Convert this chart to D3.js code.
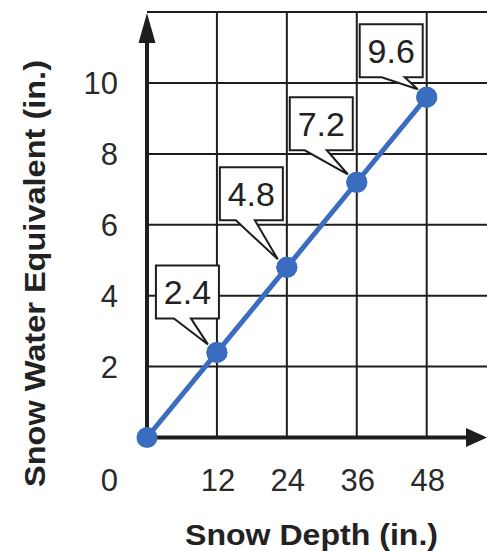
<!DOCTYPE html>
<html>
<head>
<meta charset="utf-8">
<script src="https://cdn.jsdelivr.net/npm/d3@7/dist/d3.min.js"></script>
<style>
  html, body { margin: 0; padding: 0; background: #fff; }
  svg { display: block; }
  text { font-family: "Liberation Sans", Arial, Helvetica, sans-serif; }
</style>
</head>
<body>
<svg id="chart" width="487" height="551"></svg>
<script>
// ---- data ----
const snowDepth = [0, 12, 24, 36, 48];
const waterEquivalent = [0, 2.4, 4.8, 7.2, 9.6];
const calloutLabels = ["2.4", "4.8", "7.2", "9.6"];
const xTickValues = [12, 24, 36, 48];
const yTickValues = [2, 4, 6, 8, 10];
const xTitle = "Snow Depth (in.)";
const yTitle = "Snow Water Equivalent (in.)";

// ---- layout ----
const W = 487, H = 551;
const x0 = 147, y0 = 437.5;
const x = d3.scaleLinear().domain([0, 48]).range([x0, 426.7]);
const y = d3.scaleLinear().domain([0, 10]).range([y0, 83]);
const yMax = 12;               // top grid line
const ink = "#1e1e1e";
const blue = "#3a6cbf";

// callout box placement (pixels, relative to point)
const calloutOffsets = [
  { dx: -61, dy: -87, b1: 18, b2: 35 },
  { dx: -67, dy: -100, b1: 16, b2: 35 },
  { dx: -67, dy: -85, b1: 15, b2: 37 },
  { dx: -67, dy: -73, b1: 22, b2: 45 }
];
const boxW = 63, boxH = 53;

const svg = d3.select("#chart");

// ---- grid ----
const grid = svg.append("g").attr("stroke", ink).attr("stroke-width", 2);
const hLines = d3.range(2, yMax + 1, 2);
grid.selectAll("line.h").data(hLines).join("line")
  .attr("x1", x0).attr("x2", W)
  .attr("y1", d => y(d)).attr("y2", d => y(d));
grid.selectAll("line.v").data(xTickValues).join("line")
  .attr("x1", d => x(d)).attr("x2", d => x(d))
  .attr("y1", y(yMax) - 1).attr("y2", y0);

// ---- axes ----
svg.append("line")
  .attr("x1", x0).attr("x2", x0)
  .attr("y1", y0).attr("y2", 38)
  .attr("stroke", ink).attr("stroke-width", 4);
svg.append("path")
  .attr("d", `M${x0},13 L${x0 + 8.5},43 L${x0 - 8.5},43 Z`)
  .attr("fill", ink);
svg.append("line")
  .attr("x1", x0).attr("x2", 470)
  .attr("y1", y0).attr("y2", y0)
  .attr("stroke", ink).attr("stroke-width", 4);
svg.append("path")
  .attr("d", `M${W},${y0} L${W - 21},${y0 - 9.5} L${W - 21},${y0 + 9.5} Z`)
  .attr("fill", ink);

// ---- tick labels ----
const tickFont = 31, tickColor = "#2a2a2a";
svg.append("g").selectAll("text").data(xTickValues).join("text")
  .attr("x", d => x(d) + 1).attr("y", 491)
  .attr("text-anchor", "middle")
  .attr("font-size", tickFont).attr("fill", tickColor)
  .text(d => d);
svg.append("g").selectAll("text").data(yTickValues).join("text")
  .attr("x", 118).attr("y", d => y(d) + 11)
  .attr("text-anchor", "end")
  .attr("font-size", tickFont).attr("fill", tickColor)
  .text(d => d);
svg.append("text")
  .attr("x", 118).attr("y", 491)
  .attr("text-anchor", "end")
  .attr("font-size", tickFont).attr("fill", tickColor)
  .text(0);

// ---- titles ----
svg.append("text")
  .attr("x", 311.5).attr("y", 545)
  .attr("text-anchor", "middle")
  .attr("font-size", 30).attr("font-weight", "bold").attr("fill", "#222")
  .attr("textLength", 253).attr("lengthAdjust", "spacingAndGlyphs")
  .text(xTitle);
svg.append("text")
  .attr("transform", `translate(45,273.5) rotate(-90)`)
  .attr("text-anchor", "middle")
  .attr("font-size", 30).attr("font-weight", "bold").attr("fill", "#222")
  .attr("textLength", 427).attr("lengthAdjust", "spacingAndGlyphs")
  .text(yTitle);

// ---- series ----
const pts = snowDepth.map((d, i) => [x(d), y(waterEquivalent[i])]);
svg.append("path")
  .attr("d", d3.line()(pts))
  .attr("fill", "none").attr("stroke", blue).attr("stroke-width", 5);
svg.append("g").selectAll("circle").data(pts).join("circle")
  .attr("cx", d => d[0]).attr("cy", d => d[1]).attr("r", 10.5)
  .attr("fill", blue);

// ---- callouts ----
const cg = svg.append("g");
calloutLabels.forEach((lab, i) => {
  const p = pts[i + 1];
  const o = calloutOffsets[i];
  const L = p[0] + o.dx, T = p[1] + o.dy, R = L + boxW, B = T + boxH;
  const tip = [p[0] - 9, p[1] - 8];
  const path = `M${L},${T} L${R},${T} L${R},${B} L${L + o.b2},${B} L${tip[0]},${tip[1]} L${L + o.b1},${B} L${L},${B} Z`;
  cg.append("path").attr("d", path)
    .attr("fill", "#fff").attr("stroke", ink).attr("stroke-width", 2)
    .attr("stroke-linejoin", "miter");
  cg.append("text")
    .attr("x", (L + R) / 2).attr("y", T + boxH / 2 + 12)
    .attr("text-anchor", "middle")
    .attr("font-size", 34).attr("fill", "#222")
    .text(lab);
});
// redraw dots above callout tips
svg.append("g").selectAll("circle").data(pts.slice(1)).join("circle")
  .attr("cx", d => d[0]).attr("cy", d => d[1]).attr("r", 10.5)
  .attr("fill", blue);
</script>
</body>
</html>
